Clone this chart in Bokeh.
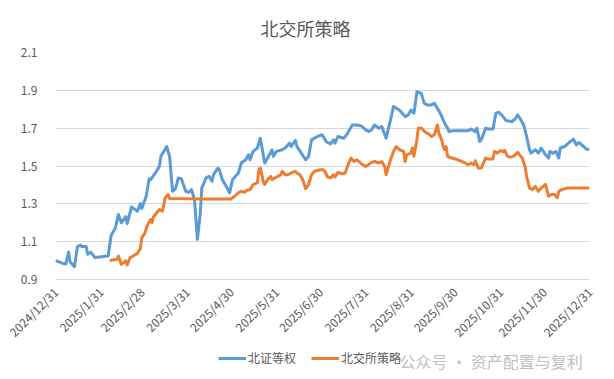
import pandas as pd
from bokeh.plotting import figure
from bokeh.layouts import column
from bokeh.models import (FixedTicker, PrintfTickFormatter, Legend, LegendItem, Label, Range1d)
from bokeh.embed import file_html
from bokeh.resources import INLINE
from math import pi

# ---------------- data ----------------
start_date = "2024-12-31"
end_date = "2025-12-31"

# days after 2024-12-31
bz_days = [0, 5, 7, 9, 10, 13, 15, 17, 18, 21, 22, 24, 27, 33, 36, 38, 41, 43, 45, 48, 49, 52, 56, 58, 59,
           62, 64, 65, 69, 71, 72, 76, 78, 80, 82, 84, 86, 89, 91, 93, 95, 97, 99, 100, 103, 105, 107, 108,
           111, 112, 114, 117, 119, 121, 125, 127, 130, 132, 133, 135, 138, 140, 141, 143, 145, 148, 149,
           151, 155, 157, 160, 161, 164, 165, 168, 171, 173, 175, 179, 182, 183, 185, 188, 190, 191, 193,
           197, 199, 202, 203, 206, 209, 212, 214, 216, 218, 221, 223, 226, 229, 231, 233, 235, 239, 241,
           243, 245, 246, 247, 250, 252, 254, 257, 259, 261, 263, 265, 266, 268, 269, 272, 276, 282, 284,
           287, 288, 290, 291, 294, 296, 299, 301, 303, 305, 308, 312, 314, 316, 318, 320, 322, 324, 325,
           328, 330, 332, 335, 337, 338, 340, 342, 344, 345, 348, 351, 354, 356, 358, 361, 363, 365]
bz_vals = [1.000, 0.985, 0.982, 1.045, 0.993, 0.968, 1.074, 1.082, 1.074, 1.074, 1.033, 1.045, 1.016, 1.021,
           1.024, 1.133, 1.174, 1.244, 1.200, 1.232, 1.196, 1.284, 1.261, 1.302, 1.275,
           1.340, 1.432, 1.428, 1.472, 1.498, 1.550, 1.603, 1.550, 1.366, 1.379, 1.437, 1.432, 1.366,
           1.361, 1.375, 1.323, 1.112, 1.253, 1.384, 1.437, 1.445, 1.419, 1.454,
           1.489, 1.481, 1.428, 1.389, 1.358, 1.428, 1.463, 1.516, 1.533, 1.559, 1.533, 1.577, 1.595,
           1.647, 1.603, 1.516, 1.542, 1.586, 1.551,
           1.577, 1.586, 1.595, 1.621, 1.603, 1.635, 1.603, 1.568, 1.533, 1.551, 1.638, 1.656, 1.665,
           1.656, 1.629, 1.617, 1.638, 1.621, 1.656,
           1.647, 1.665, 1.705, 1.717, 1.717, 1.712, 1.691, 1.682, 1.691, 1.717, 1.700, 1.708, 1.647,
           1.744, 1.814, 1.805, 1.796, 1.761, 1.770,
           1.796, 1.779, 1.832, 1.893, 1.884, 1.832, 1.823, 1.823, 1.832, 1.805, 1.779, 1.744, 1.726,
           1.700, 1.682, 1.687, 1.686, 1.687, 1.695,
           1.682, 1.700, 1.629, 1.638, 1.700, 1.695, 1.695, 1.779, 1.784, 1.770, 1.740, 1.735, 1.747,
           1.770, 1.745, 1.717, 1.656, 1.586, 1.568,
           1.586, 1.568, 1.595, 1.559, 1.542, 1.577, 1.568, 1.577, 1.542, 1.595, 1.603, 1.624, 1.642,
           1.612, 1.624, 1.603, 1.589, 1.589]

bjs_days = [37, 42, 43, 45, 48, 49, 51, 53, 56, 58, 59, 61, 63, 65, 66, 67, 70, 71, 73, 74, 75, 77, 78,
            100, 120, 123, 125, 127, 129, 131, 133, 135, 138, 139, 140, 142, 143, 145, 147, 148, 150, 152,
            154, 155, 157, 159, 161, 164, 165, 167, 169, 171, 173, 175, 177, 181, 183, 184, 186, 188, 190,
            191, 193, 196, 198, 200, 202, 204, 206, 209, 212, 214, 216, 218, 221, 223, 225, 226, 229, 231,
            233, 235, 238, 239, 240, 243, 244, 245, 247, 248, 250, 253, 255, 257, 259, 261, 262, 264, 265,
            266, 267, 268, 271, 275, 280, 282, 284, 286, 287, 289, 291, 294, 296, 299, 300, 302, 304, 306,
            307, 309, 311, 313, 316, 319, 321, 322, 324, 326, 328, 330, 332, 335, 337, 339, 341, 343, 344,
            346, 348, 350, 365]
bjs_vals = [1.000, 1.007, 1.024, 0.980, 0.998, 0.977, 1.016, 1.024, 1.038, 1.063, 1.121, 1.144, 1.191,
            1.217, 1.200, 1.232, 1.261, 1.270, 1.261, 1.296, 1.332, 1.349, 1.328,
            1.326, 1.326, 1.344, 1.358, 1.366, 1.361, 1.372, 1.375, 1.402, 1.411, 1.480, 1.489, 1.419,
            1.402, 1.428, 1.445, 1.428, 1.437, 1.445,
            1.454, 1.472, 1.454, 1.454, 1.463, 1.472, 1.463, 1.454, 1.428, 1.380, 1.402, 1.454, 1.472,
            1.480, 1.480, 1.472, 1.442, 1.437, 1.454,
            1.442, 1.466, 1.459, 1.463, 1.507, 1.542, 1.524, 1.533, 1.512, 1.498, 1.507, 1.519, 1.524,
            1.516, 1.524, 1.498, 1.454, 1.533, 1.577,
            1.603, 1.586, 1.577, 1.524, 1.559, 1.568, 1.595, 1.551, 1.638, 1.700, 1.700, 1.677, 1.670,
            1.656, 1.665, 1.717, 1.674, 1.638, 1.603,
            1.586, 1.603, 1.551, 1.542, 1.533, 1.516, 1.507, 1.516, 1.507, 1.528, 1.489, 1.489, 1.542,
            1.537, 1.537, 1.577, 1.568, 1.581, 1.577,
            1.582, 1.551, 1.547, 1.551, 1.572, 1.542, 1.495, 1.445, 1.384, 1.375, 1.393, 1.366, 1.384,
            1.402, 1.340, 1.349, 1.349, 1.332, 1.366,
            1.375, 1.379, 1.384, 1.384]

tick_dates = ["2024-12-31", "2025-01-31", "2025-02-28", "2025-03-31", "2025-04-30", "2025-05-31",
              "2025-06-30", "2025-07-31", "2025-08-31", "2025-09-30", "2025-10-31", "2025-11-30",
              "2025-12-31"]
tick_labels = ["2024/12/31", "2025/1/31", "2025/2/28", "2025/3/31", "2025/4/30", "2025/5/31",
               "2025/6/30", "2025/7/31", "2025/8/31", "2025/9/30", "2025/10/31", "2025/11/30",
               "2025/12/31"]
y_ticks = [0.9, 1.1, 1.3, 1.5, 1.7, 1.9, 2.1]

series_names = ["北证等权", "北交所策略"]
series_colors = ["#5B9BD5", "#ED7D31"]
title_text = "北交所策略"
watermark_text = "公众号 · 资产配置与复利"

# ---------------- build ----------------
t0 = pd.Timestamp(start_date)
bz_x = t0 + pd.to_timedelta(bz_days, unit="D")
bjs_x = t0 + pd.to_timedelta(bjs_days, unit="D")

def ms(d):
    return int(pd.Timestamp(d).value // 10**6)

GREY = "#595959"
FONT = "Noto Sans CJK SC"

p = figure(width=614, height=349, x_axis_type="datetime",
           x_range=(pd.Timestamp(start_date), pd.Timestamp(end_date)),
           y_range=(0.9, 2.1), output_backend="svg", toolbar_location=None,
           min_border_left=55, min_border_right=25, min_border_top=52, min_border_bottom=70)
p.frame_align = False
p.outline_line_color = None
p.background_fill_color = "white"
p.border_fill_color = "white"

p.line(bz_x, bz_vals, line_color=series_colors[0], line_width=3, line_join="round")
p.line(bjs_x, bjs_vals, line_color=series_colors[1], line_width=3, line_join="round")

# title
p.title.text = title_text
p.title.align = "left"
p.title.offset = 205
p.title.vertical_align = "middle"
p.title.text_font_size = "18px"
p.title.text_font_style = "normal"
p.title.text_color = GREY
p.title.text_font = FONT
p.title.standoff = 22

# axes
p.xaxis.ticker = FixedTicker(ticks=[ms(d) for d in tick_dates])
p.xaxis.major_label_overrides = {ms(d): lab for d, lab in zip(tick_dates, tick_labels)}
p.xaxis.major_label_orientation = pi / 4
p.xaxis.axis_line_color = "#d9d9d9"
p.xaxis.major_tick_line_color = None
p.xaxis.minor_tick_line_color = None
p.xaxis.major_label_text_font_size = "12px"
p.xaxis.major_label_text_color = GREY
p.xaxis.major_label_text_font = FONT
p.xaxis.major_label_standoff = 4

p.yaxis.ticker = FixedTicker(ticks=y_ticks)
p.yaxis.formatter = PrintfTickFormatter(format="%.1f")
p.yaxis.axis_line_color = None
p.yaxis.major_tick_line_color = None
p.yaxis.minor_tick_line_color = None
p.yaxis.major_label_text_font_size = "12px"
p.yaxis.major_label_text_color = GREY
p.yaxis.major_label_text_font = FONT
p.yaxis.major_label_standoff = 12

p.xgrid.grid_line_color = None
p.ygrid.ticker = FixedTicker(ticks=y_ticks)
p.ygrid.grid_line_color = "#d9d9d9"
p.ygrid.grid_line_width = 1

# ---- legend strip (second, axis-less figure under the chart) ----
q = figure(width=614, height=30, x_range=Range1d(0, 1), y_range=Range1d(0, 1),
           output_backend="svg", toolbar_location=None,
           x_axis_location=None, y_axis_location=None,
           min_border_left=0, min_border_right=0, min_border_top=0, min_border_bottom=0)
q.frame_align = False
q.outline_line_color = None
q.xgrid.grid_line_color = None
q.ygrid.grid_line_color = None
q.border_fill_color = "white"

# key renderers: drawn off the visible range, used only for their legend swatches
k1 = q.line([5, 6], [5, 6], line_color=series_colors[0], line_width=3)
k2 = q.line([5, 6], [5, 6], line_color=series_colors[1], line_width=3)

legend = Legend(items=[LegendItem(label=series_names[0], renderers=[k1]),
                       LegendItem(label=series_names[1], renderers=[k2])],
                orientation="horizontal", location=(218, 13),
                glyph_width=28, glyph_height=14, label_height=14, label_standoff=2,
                spacing=15, padding=0, margin=0,
                label_text_font_size="12px", label_text_color=GREY, label_text_font=FONT,
                border_line_color=None, background_fill_alpha=0)
q.add_layout(legend, "center")

q.add_layout(Label(x=399, y=19, x_units="screen", y_units="screen", text=watermark_text,
                   text_align="left", text_baseline="middle", text_font_size="16px",
                   text_color="#c0c0c0", text_font=FONT))

open("out.html", "w").write(file_html(column(p, q, spacing=0), INLINE))
